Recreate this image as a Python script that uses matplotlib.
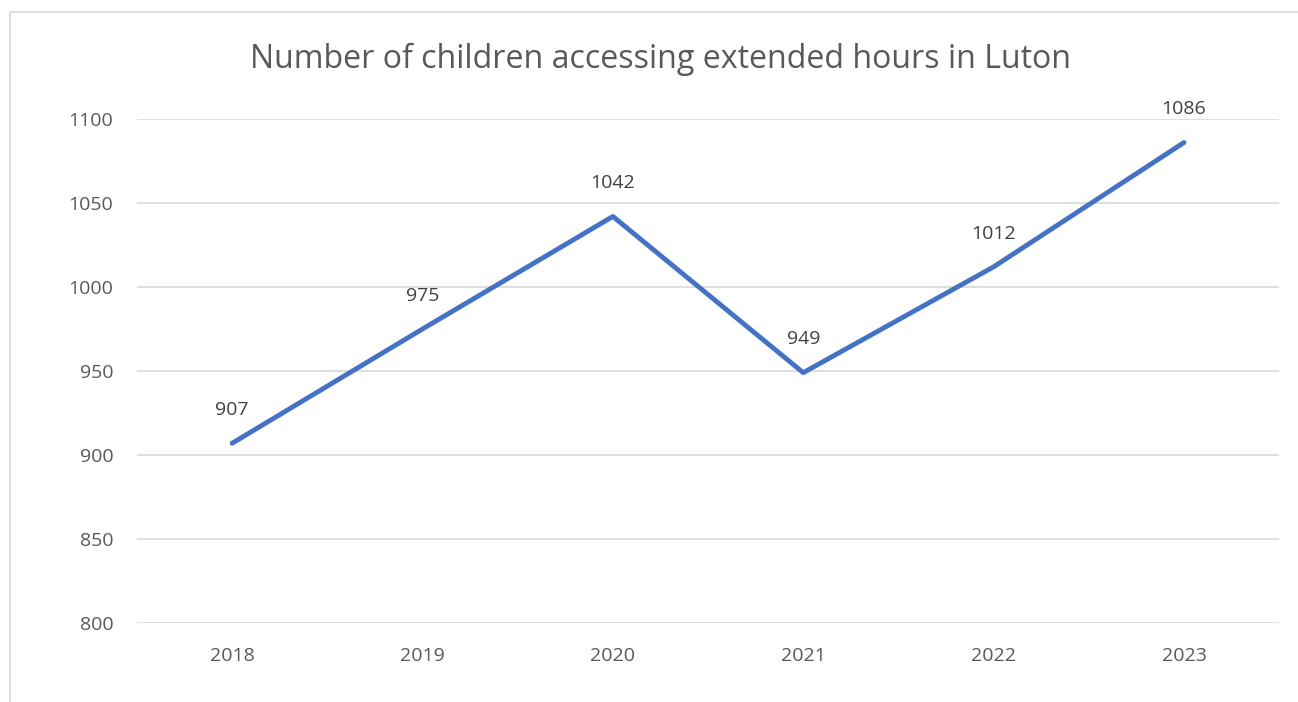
import matplotlib.pyplot as plt
from matplotlib.patches import Rectangle

years = ['2018', '2019', '2020', '2021', '2022', '2023']
children = [907, 975, 1042, 949, 1012, 1086]
y_ticks = [800, 850, 900, 950, 1000, 1050, 1100]

plt.rcParams['font.family'] = ['Open Sans', 'DejaVu Sans']

fig = plt.figure(figsize=(12.98, 7.02), dpi=100)
ax = fig.add_axes([0.1055, 0.1125, 0.88, 0.718])

# chart border (Excel style, clipped at right/bottom)
fig.patches.append(Rectangle((10 / 1298, -0.05), 1.2, 1 - 12 / 702 + 0.05,
                             transform=fig.transFigure, fill=False,
                             edgecolor='#d9d9d9', linewidth=1.2))

x = range(len(years))
ax.plot(x, children, color='#4472C4', linewidth=3.5, solid_capstyle='round',
        solid_joinstyle='round', zorder=3)

for xi, v in zip(x, children):
    ax.annotate(str(v), (xi, v), xytext=(0, 24), textcoords='offset points',
                ha='center', va='center', fontsize=14, color='#404040')

ax.set_xlim(-0.5, len(years) - 0.5)
ax.set_ylim(800, 1100)
ax.set_xticks(list(x))
ax.set_xticklabels(years)
ax.set_yticks(y_ticks)
ax.tick_params(axis='both', length=0, labelsize=14, colors='#595959')
ax.tick_params(axis='y', pad=17)
ax.tick_params(axis='x', pad=17)
ax.grid(axis='y', color='#d9d9d9', linewidth=1.2)
ax.set_axisbelow(True)
for s in ax.spines.values():
    s.set_visible(False)

fig.text(0.5085, 0.916, 'Number of children accessing extended hours in Luton',
         ha='center', va='center', fontsize=23.1, color='#595959')

fig.savefig('out.png', dpi=100)
